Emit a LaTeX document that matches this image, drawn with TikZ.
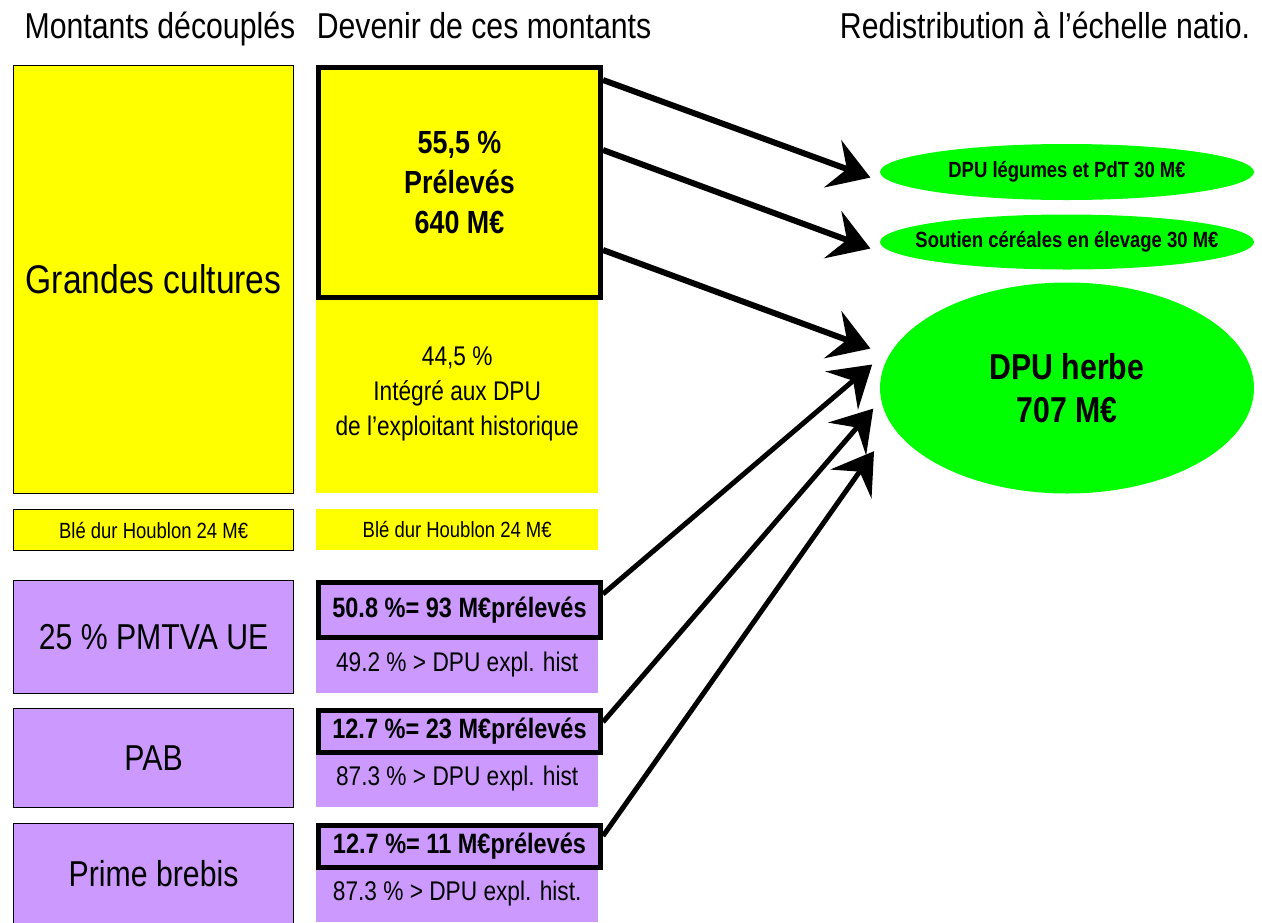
\documentclass[tikz,border=0pt]{standalone}
\usepackage{fontspec}
\setmainfont{Liberation Sans}[FakeStretch=0.84]
\usetikzlibrary{shapes.geometric,arrows.meta}

\definecolor{jaune}{RGB}{255,255,0}
\definecolor{mauve}{RGB}{204,153,255}
\definecolor{vert}{RGB}{0,255,0}

\tikzset{
  titre/.style={anchor=base,font=\fontsize{36}{40}\selectfont},
  gauche/.style={anchor=north west,draw,line width=1.2pt,inner sep=0pt,minimum width=280pt,align=center},
  milieu/.style={anchor=north west,inner sep=0pt,minimum width=282pt,align=center},
  preleve/.style={milieu,draw,line width=5pt},
  bulle/.style={ellipse,fill=vert,inner sep=0pt,minimum width=374pt,align=center},
  fleche/.style={-{Stealth[length=40pt,width=50pt,inset=15pt]},line width=#1,shorten >=10pt},
  fleche/.default=6pt
}

\begin{document}
\begin{tikzpicture}[x=1pt,y=-1pt]
\useasboundingbox (0,0) rectangle (1262,922);

% titres des colonnes
\node[titre] (t1) at (160,38) {Montants découplés};
\node[titre] (t2) at (484,38) {Devenir de ces montants};
\node[titre] (t3) at (1045,38) {Redistribution à l’échelle natio.};

% montants decouples
\node[gauche,fill=jaune,minimum height=428pt,font=\fontsize{40}{44}\selectfont] (gc) at (13,65) {Grandes cultures};
\node[gauche,fill=jaune,minimum height=41pt,font=\fontsize{22}{24}\selectfont] (bd1) at (13,509) {Blé dur Houblon 24 M€};
\node[gauche,fill=mauve,minimum height=113pt,font=\fontsize{36}{40}\selectfont] (pmtva) at (13,580) {25 \% PMTVA UE};
\node[gauche,fill=mauve,minimum height=99pt,font=\fontsize{36}{40}\selectfont] (pab) at (13,708) {PAB};
\node[gauche,fill=mauve,minimum height=100pt,font=\fontsize{36}{40}\selectfont] (brebis) at (13,823) {Prime brebis};

% devenir
\node[milieu,fill=jaune,minimum height=198pt,font=\fontsize{27}{35}\selectfont] (integ) at (316,295) {44,5 \%\\Intégré aux DPU\\de l’exploitant historique};
\node[preleve,fill=jaune,minimum height=230pt,font=\bfseries\fontsize{32}{40}\selectfont] (prel) at (316,65) {55,5 \%\\Prélevés\\640 M€};
\node[milieu,fill=jaune,minimum height=41pt,font=\fontsize{22}{24}\selectfont] (bd2) at (316,509) {Blé dur Houblon 24 M€};

\node[milieu,fill=mauve,minimum height=58pt,font=\fontsize{27}{30}\selectfont] (p1r) at (316,635) {49.2 \% > DPU expl. hist};
\node[milieu,fill=mauve,minimum height=57pt,font=\fontsize{27}{30}\selectfont] (p2r) at (316,750) {87.3 \% > DPU expl. hist};
\node[milieu,fill=mauve,minimum height=57pt,font=\fontsize{27}{30}\selectfont] (p3r) at (316,865) {87.3 \% > DPU expl. hist.};
\node[preleve,fill=mauve,minimum height=55pt,font=\bfseries\fontsize{28}{30}\selectfont] (p1) at (316,580) {50.8 \%= 93 M€prélevés};
\node[preleve,fill=mauve,minimum height=42pt,font=\bfseries\fontsize{28}{30}\selectfont] (p2) at (316,708) {12.7 \%= 23 M€prélevés};
\node[preleve,fill=mauve,minimum height=42pt,font=\bfseries\fontsize{28}{30}\selectfont] (p3) at (316,823) {12.7 \%= 11 M€prélevés};

% redistribution
\node[bulle,minimum height=56pt,font=\bfseries\fontsize{22}{24}\selectfont] (leg) at (1067,172) {\makebox[0pt]{DPU légumes et PdT 30 M€}};
\node[bulle,minimum height=55pt,font=\bfseries\fontsize{22}{24}\selectfont] (cer) at (1067,242) {\makebox[0pt]{Soutien céréales en élevage 30 M€}};
\node[bulle,minimum height=211pt,font=\bfseries\fontsize{36}{43}\selectfont] (herbe) at (1067,388) {\makebox[0pt]{DPU herbe}\\\makebox[0pt]{707 M€}};

% fleches
\draw[fleche] ([yshift=-15pt]prel.north east) -- ([yshift=-9pt]leg.west);
\draw[fleche] ([yshift=-85pt]prel.north east) -- ([yshift=-10pt]cer.west);
\draw[fleche] ([yshift=-185pt]prel.north east) -- ([yshift=36pt]herbe.west);
\draw[fleche=5pt] ([yshift=-14pt]p1.north east) -- ([yshift=30pt]herbe.west);
\draw[fleche=5pt] ([yshift=-14pt]p2.north east) -- ([yshift=-13pt]herbe.west);
\draw[fleche=5pt] ([yshift=-13pt]p3.north east) -- ([yshift=-55pt]herbe.west);
\end{tikzpicture}
\end{document}
